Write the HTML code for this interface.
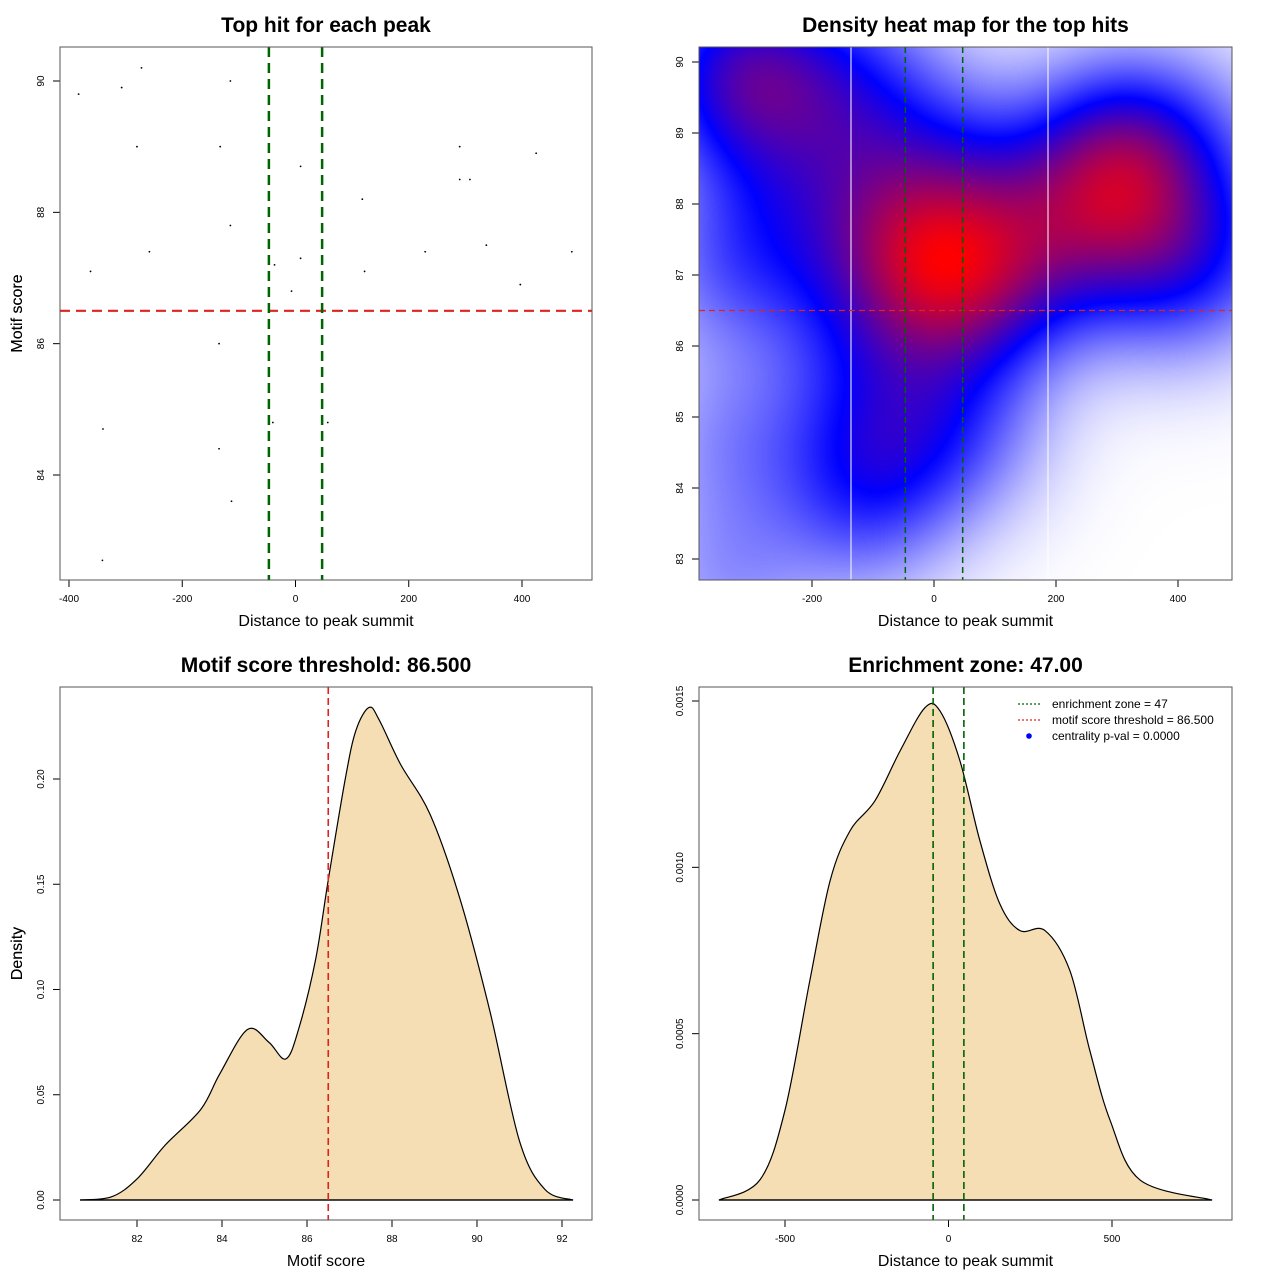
<!DOCTYPE html>
<html><head><meta charset="utf-8">
<style>
html,body{margin:0;padding:0;background:#fff;}
#root{position:relative;width:1280px;height:1280px;overflow:hidden;font-family:"Liberation Sans",Arial,sans-serif;}
svg{position:absolute;left:0;top:0;}
canvas{position:absolute;}
</style></head>
<body>
<div id="root">
<canvas id="heat"></canvas>
<svg id="svg" width="1280" height="1280"></svg>
</div>
<script>
// ---- data ----
const hitDist = [-383,-307,-272,-280,-115,-133,9,290,425,290,308,118,-115,-258,-362,-37,9,229,337,488,122,-7,397,82,-135,-340,-40,57,-135,-113,-341];
const hitScore = [89.8,89.9,90.2,89.0,90.0,89.0,88.7,89.0,88.9,88.5,88.5,88.2,87.8,87.4,87.1,87.2,87.3,87.4,87.5,87.4,87.1,86.8,86.9,86.5,86.0,84.7,84.8,84.8,84.4,83.6,82.7];
const scoreX = [80.66,81.4,82,82.66,83.5,83.95,84.6,85.1,85.5,85.8,86.2,86.5,86.9,87.15,87.46,87.7,88.2,88.9,89.6,90.3,91.0,91.6,92.26];
const scoreD = [0,0.0015,0.01,0.026,0.043,0.06,0.081,0.075,0.067,0.081,0.114,0.152,0.2,0.223,0.234,0.228,0.207,0.183,0.143,0.09,0.028,0.005,0];
const distX = [-702,-577,-500,-424,-362,-301,-225,-148,-72,-26,35,96,157,218,295,371,432,494,586,806];
const distD = [0,0.00006,0.00027,0.00066,0.00096,0.00111,0.0012,0.00135,0.00148,0.00147,0.00132,0.00108,0.00089,0.00081,0.00081,0.00069,0.00045,0.00024,0.00006,0];
const threshold = 86.5;
const zone = 47;
const xTicks1 = [-400,-200,0,200,400];
const yTicks1 = [84,86,88,90];
const xTicks2 = [-200,0,200,400];
const yTicks2 = [83,84,85,86,87,88,89,90];
const xTicks3 = [82,84,86,88,90,92];
const yTicks3 = [0,0.05,0.10,0.15,0.20];
const yLabels3 = ["0.00","0.05","0.10","0.15","0.20"];
const xTicks4 = [-500,0,500];
const yTicks4 = [0,0.0005,0.0010,0.0015];
const yLabels4 = ["0.0000","0.0005","0.0010","0.0015"];
const legendLabels = ["enrichment zone = 47","motif score threshold = 86.500","centrality p-val = 0.0000"];

const NS="http://www.w3.org/2000/svg";
const svg=document.getElementById('svg');
function el(tag,attrs,parent){const e=document.createElementNS(NS,tag);for(const k in attrs)e.setAttribute(k,attrs[k]);(parent||svg).appendChild(e);return e;}
function lin(d0,d1,r0,r1){return v=>r0+(v-d0)*(r1-r0)/(d1-d0);}
function txt(x,y,s,size,opts){const t=el('text',Object.assign({x:x,y:y,'font-size':size,'text-anchor':'middle',fill:'#000'},opts||{}));t.textContent=s;return t;}

function panel(p){
  const g=el('g',{});
  
  
  const t=txt((p.l+p.r)/2,p.t-15,p.title,21,{'font-weight':'bold'});g.appendChild(t);
  
  const xl=txt((p.l+p.r)/2,p.b+46,p.xlab,16);g.appendChild(xl);
  
  const cy=(p.t+p.b)/2;
  const yl=txt(22,cy,p.ylab,16,{transform:`rotate(-90 22 ${cy})`});g.appendChild(yl);
  
  // x axis
  const xa=el('g',{},g);
  el('line',{x1:p.X(p.xt[0]),x2:p.X(p.xt[p.xt.length-1]),y1:p.b,y2:p.b,stroke:'#000'},xa);
  p.xt.forEach((v,i)=>{const x=p.X(v);el('line',{x1:x,x2:x,y1:p.b,y2:p.b+7,stroke:'#000'},xa);
    const tt=txt(x,p.b+22,p.xl?p.xl[i]:String(v),10);xa.appendChild(tt);});
  const ya=el('g',{},g);
  el('line',{x1:p.l,x2:p.l,y1:p.Y(p.yt[0]),y2:p.Y(p.yt[p.yt.length-1]),stroke:'#000'},ya);
  p.yt.forEach((v,i)=>{const y=p.Y(v);el('line',{x1:p.l-7,x2:p.l,y1:y,y2:y,stroke:'#000'},ya);
    const tx=p.l-16;const tt=txt(tx,y,p.yl?p.yl[i]:String(v),10,{transform:`rotate(-90 ${tx} ${y})`});ya.appendChild(tt);});
  return g;
}
function box(p,g){el('rect',{x:p.l,y:p.t,width:p.r-p.l,height:p.b-p.t,fill:'none',stroke:'#555','stroke-width':1},g);}
function smoothPath(pts){
  let d=`M${pts[0][0]},${pts[0][1]}`;
  for(let i=0;i<pts.length-1;i++){
    const p0=pts[Math.max(i-1,0)],p1=pts[i],p2=pts[i+1],p3=pts[Math.min(i+2,pts.length-1)];
    const c1=[p1[0]+(p2[0]-p0[0])/6,p1[1]+(p2[1]-p0[1])/6];
    const c2=[p2[0]-(p3[0]-p1[0])/6,p2[1]-(p3[1]-p1[1])/6];
    d+=` C${c1[0]},${c1[1]} ${c2[0]},${c2[1]} ${p2[0]},${p2[1]}`;
  }
  return d;
}

// ---- Panel 1 ----
(function(){
  const p={name:'top-hit-scatter',l:60,r:592,t:47,b:580,title:'Top hit for each peak',xlab:'Distance to peak summit',ylab:'Motif score',xt:xTicks1,yt:yTicks1};
  p.X=lin(0,400,295.5,522);p.Y=lin(84,90,475,81);
  const g=panel(p);
  hitDist.forEach((d,i)=>{const c=el('circle',{cx:p.X(d),cy:p.Y(hitScore[i]),r:0.9,fill:'#000'},g);
    });
  const h=el('line',{x1:p.l,x2:p.r,y1:p.Y(threshold),y2:p.Y(threshold),stroke:'#dd2222','stroke-width':2.2,'stroke-dasharray':'10,6'},g);
  
  [-zone,zone].forEach(z=>{const l=el('line',{x1:p.X(z),x2:p.X(z),y1:p.t,y2:p.b,stroke:'#006400','stroke-width':2.5,'stroke-dasharray':'10,6'},g);
    });
  box(p,g);
})();

// ---- Panel 2 heatmap ----
(function(){
  const p={name:'density-heatmap-panel',l:699,r:1232,t:47,b:580,title:'Density heat map for the top hits',xlab:'Distance to peak summit',ylab:'Motif score',xt:xTicks2,yt:yTicks2};
  p.X=lin(0,400,934,1178);p.Y=lin(83,90,559,62);
  const cv=document.getElementById('heat');
  const W=p.r-p.l,H=p.b-p.t;
  cv.width=W;cv.height=H;cv.style.left=p.l+'px';cv.style.top=p.t+'px';
  const ctx=cv.getContext('2d');const img=ctx.createImageData(W,H);
  const hx=105,hy=0.95;const vals=new Float32Array(W*H);let mx=0;
  const ix=v=>(v-934)/(1178-934)*400, iy=v=>83+(559-v)/(559-62)*7;
  for(let j=0;j<H;j++){const s=iy(p.t+j);for(let i=0;i<W;i++){const d=ix(p.l+i);let z=0;
    for(let k=0;k<hitDist.length;k++){const a=(d-hitDist[k])/hx,b=(s-hitScore[k])/hy;z+=Math.exp(-0.5*(a*a+b*b));}
    vals[j*W+i]=z;if(z>mx)mx=z;}}
  for(let n=0;n<W*H;n++){let t=vals[n]/mx;let r,g2,b;
    const m=0.5;
    if(t<m){const u=Math.min(1,t/m);r=255*(1-u);g2=255*(1-u);b=255;}
    else{const u=(t-m)/(1-m);r=255*u;g2=0;b=255*(1-u);}
    img.data[n*4]=r;img.data[n*4+1]=g2;img.data[n*4+2]=b;img.data[n*4+3]=255;}
  ctx.putImageData(img,0,0);
  const g=panel(p);
  [851,1048].forEach(x=>{const l=el('line',{x1:x,x2:x,y1:p.t,y2:p.b,stroke:'#fff','stroke-width':1},g);
    });
  const h=el('line',{x1:p.l,x2:p.r,y1:p.Y(threshold),y2:p.Y(threshold),stroke:'#dd2222','stroke-width':1.3,'stroke-dasharray':'6,4'},g);
  
  [-zone,zone].forEach(z=>{const l=el('line',{x1:p.X(z),x2:p.X(z),y1:p.t,y2:p.b,stroke:'#006400','stroke-width':1.5,'stroke-dasharray':'6,4'},g);
    });
  box(p,g);
})();

// ---- Panel 3 ----
(function(){
  const p={name:'score-density-panel',l:60,r:592,t:687,b:1220,title:'Motif score threshold: 86.500',xlab:'Motif score',ylab:'Density',xt:xTicks3,yt:yTicks3,yl:yLabels3};
  p.X=lin(82,92,137,562);p.Y=lin(0,0.2,1200,779);
  const g=panel(p);
  const pts=scoreX.map((x,i)=>[p.X(x),p.Y(scoreD[i])]);
  const d=smoothPath(pts);
  const a=el('path',{d:d+' Z',fill:'#F5DEB3',stroke:'#000','stroke-width':1.2},g);
  
  el('line',{x1:pts[0][0],x2:pts[pts.length-1][0],y1:p.Y(0),y2:p.Y(0),stroke:'#000','stroke-width':1.2},g);
  const h=el('line',{x1:p.X(threshold),x2:p.X(threshold),y1:p.t,y2:p.b,stroke:'#dd2222','stroke-width':1.6,'stroke-dasharray':'7,4'},g);
  
  box(p,g);
})();

// ---- Panel 4 ----
(function(){
  const p={name:'distance-density-panel',l:699,r:1232,t:687,b:1220,title:'Enrichment zone: 47.00',xlab:'Distance to peak summit',ylab:'Density',xt:xTicks4,yt:yTicks4,yl:yLabels4};
  p.X=lin(-500,500,785,1112);p.Y=lin(0,0.0015,1200,701);
  const g=panel(p);
  const pts=distX.map((x,i)=>[p.X(x),p.Y(distD[i])]);
  const a=el('path',{d:smoothPath(pts)+' Z',fill:'#F5DEB3',stroke:'#000','stroke-width':1.2},g);
  
  el('line',{x1:pts[0][0],x2:pts[pts.length-1][0],y1:p.Y(0),y2:p.Y(0),stroke:'#000','stroke-width':1.2},g);
  [-zone,zone].forEach(z=>{const l=el('line',{x1:p.X(z),x2:p.X(z),y1:p.t,y2:p.b,stroke:'#006400','stroke-width':1.6,'stroke-dasharray':'7,4'},g);
    });
  const lg=el('g',{},g);
  const cols=['#006400','#dd2222'];
  legendLabels.forEach((s,i)=>{const y=704+i*16;
    if(i<2)el('line',{x1:1018,x2:1042,y1:y,y2:y,stroke:cols[i],'stroke-width':1.2,'stroke-dasharray':'2,2'},lg);
    else el('circle',{cx:1029,cy:y,r:2.8,fill:'#0000ff'},lg);
    const t=txt(1052,y+4,s,12,{'text-anchor':'start'});lg.appendChild(t);
    });
  box(p,g);
})();
</script>
</body></html>
